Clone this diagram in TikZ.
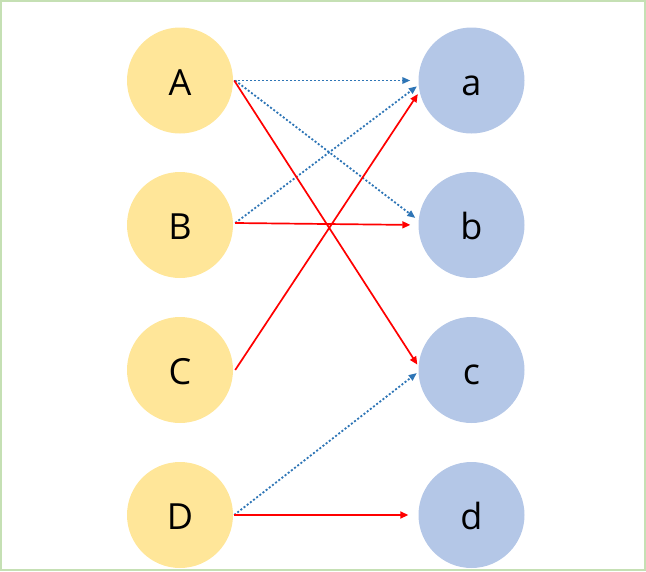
\documentclass[tikz,border=0pt]{standalone}
\usepackage{fontspec}
\setmainfont{Open Sans}
\usetikzlibrary{arrows.meta}
\definecolor{cyel}{HTML}{FFE699}
\definecolor{cblu}{HTML}{B4C7E7}
\definecolor{cred}{HTML}{FF0000}
\definecolor{cdot}{HTML}{2E75B6}
\definecolor{cframe}{HTML}{C5E0B4}
\tikzset{
  circ/.style={circle,minimum size=106pt,inner sep=0pt,text height=29pt,text depth=0pt,font=\fontsize{36}{40}\selectfont},
  lnode/.style={circ,fill=cyel},
  rnode/.style={circ,fill=cblu},
  redarr/.style={draw=cred,line width=1.7pt,-{Triangle[length=8pt,width=7pt]}},
  dotarr/.style={draw=cdot,line width=1.8pt,dash pattern=on 2pt off 2pt,-{Triangle[length=8pt,width=6.5pt]}},
}
\begin{document}
\begin{tikzpicture}[x=1pt,y=-1pt]
\useasboundingbox (0,0) rectangle (646,571);
\draw[cframe,line width=2pt] (1,1) rectangle (645,570);
\node[lnode] (A) at (180,80.5) {A};
\node[lnode] (B) at (180,225) {B};
\node[lnode] (C) at (180,370) {C};
\node[lnode] (D) at (180,515) {D};
\node[rnode] (a) at (471.5,80.5) {a};
\node[rnode] (b) at (471.5,225) {b};
\node[rnode] (c) at (471.5,370) {c};
\node[rnode] (d) at (471.5,515) {d};
\draw[dotarr,shorten >=8pt] ([xshift=1pt]A.east) -- (a.west);
\draw[dotarr,shorten >=4pt] ([xshift=2pt]A.east) -- (b.175);
\draw[dotarr,shorten >=2pt] ([xshift=2pt,yshift=2pt]B.east) -- (a.185);
\draw[dotarr,shorten >=2pt] ([xshift=1pt]D.east) -- (c.182);
\draw[redarr,shorten >=2pt] ([xshift=1pt]A.east) -- (c.176);
\draw[redarr,shorten >=8pt] ([xshift=2pt,yshift=2pt]B.east) -- (b.west);
\draw[redarr,shorten >=3pt] ([xshift=2pt]C.east) -- (a.192);
\draw[redarr,shorten >=10pt] ([xshift=1pt]D.east) -- (d.west);
\end{tikzpicture}
\end{document}
